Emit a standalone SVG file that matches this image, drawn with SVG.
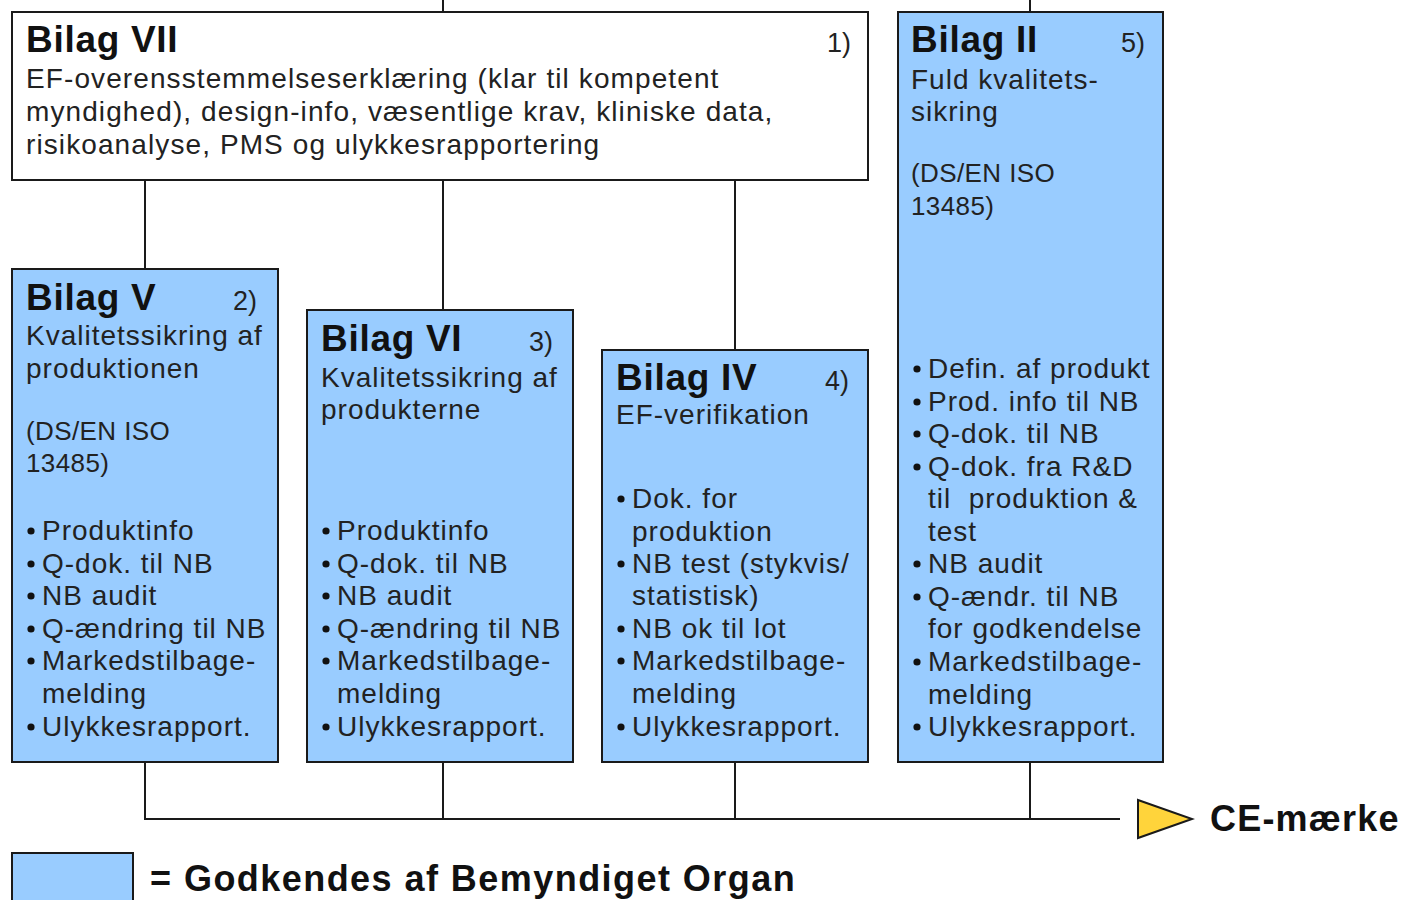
<svg xmlns="http://www.w3.org/2000/svg" width="1401" height="900" viewBox="0 0 1401 900">
<style>
.box{stroke:#1a1a1a;stroke-width:2}
.blue{fill:#99CCFF}
.white{fill:#ffffff}
.title{font-family:"Liberation Sans",Arial,sans-serif;font-weight:bold;font-size:37px;fill:#111;letter-spacing:0.7px}
.num{font-family:"Liberation Sans",Arial,sans-serif;font-size:27px;fill:#222}
.t{font-family:"Liberation Sans",Arial,sans-serif;font-size:28px;fill:#222;letter-spacing:1px}
.s{font-family:"Liberation Sans",Arial,sans-serif;font-size:26px;fill:#222;letter-spacing:0.4px}
.dot{fill:#111}
.conn{stroke:#1a1a1a;stroke-width:2;fill:none}
.big{font-family:"Liberation Sans",Arial,sans-serif;font-weight:bold;font-size:36px;fill:#111;letter-spacing:1.2px}
.leg{letter-spacing:1.45px}
</style>
<defs>
<circle id="bul" r="3.6" class="dot"/>
</defs>
<rect width="1401" height="900" fill="#ffffff"/>
<g id="connectors">
<line class="conn" x1="443" y1="0" x2="443" y2="12"/>
<line class="conn" x1="1030" y1="0" x2="1030" y2="12"/>
<line class="conn" x1="145" y1="180" x2="145" y2="269"/>
<line class="conn" x1="443" y1="180" x2="443" y2="310"/>
<line class="conn" x1="735" y1="180" x2="735" y2="350"/>
<polyline class="conn" points="145,762 145,819 1120,819"/>
<line class="conn" x1="443" y1="762" x2="443" y2="819"/>
<line class="conn" x1="735" y1="762" x2="735" y2="819"/>
<line class="conn" x1="1030" y1="762" x2="1030" y2="819"/>
</g>
<g id="bilag7">
<rect class="box white" x="12" y="12" width="856" height="168"/>
<text class="title" x="26" y="52">Bilag VII</text>
<text class="num" x="827" y="52">1)</text>
<text class="t" x="26" y="88" style="letter-spacing:1.1px">EF-overensstemmelseserklæring (klar til kompetent</text>
<text class="t" x="26" y="121" style="letter-spacing:1.1px">myndighed), design-info, væsentlige krav, kliniske data,</text>
<text class="t" x="26" y="154" style="letter-spacing:1.1px">risikoanalyse, PMS og ulykkesrapportering</text>
</g>
<g id="bilag5">
<rect class="box blue" x="12" y="269" width="266" height="493"/>
<text class="title" x="26" y="310">Bilag V</text>
<text class="num" x="233" y="310">2)</text>
<text class="t" x="26" y="345">Kvalitetssikring af</text>
<text class="t" x="26" y="378">produktionen</text>
<text class="s" x="26" y="440">(DS/EN ISO</text>
<text class="s" x="26" y="472">13485)</text>
<use href="#bul" x="31" y="531"/><use href="#bul" x="31" y="564"/><use href="#bul" x="31" y="596"/><use href="#bul" x="31" y="629"/><use href="#bul" x="31" y="661"/><use href="#bul" x="31" y="727"/>
<text class="t" x="42" y="540">Produktinfo</text>
<text class="t" x="42" y="573">Q-dok. til NB</text>
<text class="t" x="42" y="605">NB audit</text>
<text class="t" x="42" y="638">Q-ændring til NB</text>
<text class="t" x="42" y="670">Markedstilbage-</text>
<text class="t" x="42" y="703">melding</text>
<text class="t" x="42" y="736">Ulykkesrapport.</text>
</g>
<g id="bilag6">
<rect class="box blue" x="307" y="310" width="266" height="452"/>
<text class="title" x="321" y="351">Bilag VI</text>
<text class="num" x="529" y="351">3)</text>
<text class="t" x="321" y="387">Kvalitetssikring af</text>
<text class="t" x="321" y="419">produkterne</text>
<use href="#bul" x="326" y="531"/><use href="#bul" x="326" y="564"/><use href="#bul" x="326" y="596"/><use href="#bul" x="326" y="629"/><use href="#bul" x="326" y="661"/><use href="#bul" x="326" y="727"/>
<text class="t" x="337" y="540">Produktinfo</text>
<text class="t" x="337" y="573">Q-dok. til NB</text>
<text class="t" x="337" y="605">NB audit</text>
<text class="t" x="337" y="638">Q-ændring til NB</text>
<text class="t" x="337" y="670">Markedstilbage-</text>
<text class="t" x="337" y="703">melding</text>
<text class="t" x="337" y="736">Ulykkesrapport.</text>
</g>
<g id="bilag4">
<rect class="box blue" x="602" y="350" width="266" height="412"/>
<text class="title" x="616" y="390">Bilag IV</text>
<text class="num" x="825" y="390">4)</text>
<text class="t" x="616" y="424">EF-verifikation</text>
<use href="#bul" x="621" y="499"/><use href="#bul" x="621" y="564"/><use href="#bul" x="621" y="629"/><use href="#bul" x="621" y="661"/><use href="#bul" x="621" y="727"/>
<text class="t" x="632" y="508">Dok. for</text>
<text class="t" x="632" y="541">produktion</text>
<text class="t" x="632" y="573">NB test (stykvis/</text>
<text class="t" x="632" y="605">statistisk)</text>
<text class="t" x="632" y="638">NB ok til lot</text>
<text class="t" x="632" y="670">Markedstilbage-</text>
<text class="t" x="632" y="703">melding</text>
<text class="t" x="632" y="736">Ulykkesrapport.</text>
</g>
<g id="bilag2">
<rect class="box blue" x="898" y="12" width="265" height="750"/>
<text class="title" x="911" y="52">Bilag II</text>
<text class="num" x="1121" y="52">5)</text>
<text class="t" x="911" y="89">Fuld kvalitets-</text>
<text class="t" x="911" y="121">sikring</text>
<text class="s" x="911" y="182">(DS/EN ISO</text>
<text class="s" x="911" y="215">13485)</text>
<use href="#bul" x="917" y="369"/><use href="#bul" x="917" y="402"/><use href="#bul" x="917" y="434"/><use href="#bul" x="917" y="467"/><use href="#bul" x="917" y="564"/><use href="#bul" x="917" y="597"/><use href="#bul" x="917" y="662"/><use href="#bul" x="917" y="727"/>
<text class="t" x="928" y="378">Defin. af produkt</text>
<text class="t" x="928" y="411">Prod. info til NB</text>
<text class="t" x="928" y="443">Q-dok. til NB</text>
<text class="t" x="928" y="476">Q-dok. fra R&amp;D</text>
<text class="t" x="928" y="508" xml:space="preserve">til  produktion &amp;</text>
<text class="t" x="928" y="541">test</text>
<text class="t" x="928" y="573">NB audit</text>
<text class="t" x="928" y="606">Q-ændr. til NB</text>
<text class="t" x="928" y="638">for godkendelse</text>
<text class="t" x="928" y="671">Markedstilbage-</text>
<text class="t" x="928" y="704">melding</text>
<text class="t" x="928" y="736">Ulykkesrapport.</text>
</g>
<g id="ce">
<polygon points="1138,800 1192,819 1138,838" fill="#FFD43B" stroke="#1a1a1a" stroke-width="2"/>
<text class="big" x="1210" y="831">CE-mærke</text>
</g>
<g id="legend">
<rect class="box blue" x="12" y="853" width="121" height="60"/>
<text class="big leg" x="150" y="891">= Godkendes af Bemyndiget Organ</text>
</g>
</svg>
